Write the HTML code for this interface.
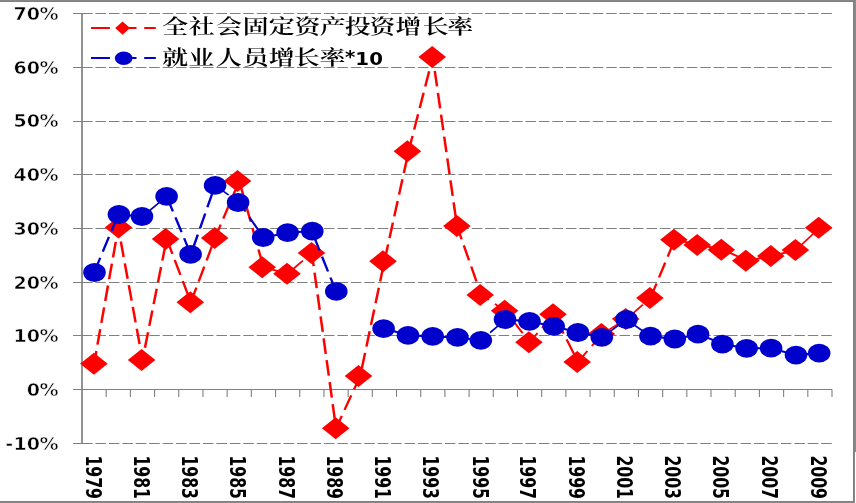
<!DOCTYPE html>
<html lang="zh"><head><meta charset="utf-8">
<style>html,body{margin:0;padding:0;background:#fff;overflow:hidden}svg{display:block}.ax{font-family:"DejaVu Sans","Liberation Sans",sans-serif;font-weight:bold;fill:#000}.thin{stroke:#fff;stroke-width:0.55px}.cj{font-family:"Liberation Serif","Noto Serif CJK SC",serif;fill:#000}</style></head><body>
<svg width="856" height="503" viewBox="0 0 856 503">
<rect x="0" y="0" width="856" height="503" fill="#fff"/>
<g stroke="#808080" stroke-width="1" stroke-dasharray="10.55 2.89" fill="none">
<line x1="82.0" y1="13.50" x2="832.0" y2="13.50"/>
<line x1="82.0" y1="67.50" x2="832.0" y2="67.50"/>
<line x1="82.0" y1="121.50" x2="832.0" y2="121.50"/>
<line x1="82.0" y1="174.50" x2="832.0" y2="174.50"/>
<line x1="82.0" y1="228.50" x2="832.0" y2="228.50"/>
<line x1="82.0" y1="282.50" x2="832.0" y2="282.50"/>
<line x1="82.0" y1="335.50" x2="832.0" y2="335.50"/>
<line x1="82.0" y1="443.50" x2="832.0" y2="443.50"/>
</g>
<g stroke="#808080" fill="none">
<line x1="82.0" y1="13.00" x2="82.0" y2="444.00" stroke-width="1.7"/>
<line x1="73.0" y1="389.50" x2="832.0" y2="389.50" stroke-width="1"/>
<line x1="73.0" y1="13.50" x2="82.0" y2="13.50" stroke-width="1"/>
<line x1="73.0" y1="67.50" x2="82.0" y2="67.50" stroke-width="1"/>
<line x1="73.0" y1="121.50" x2="82.0" y2="121.50" stroke-width="1"/>
<line x1="73.0" y1="174.50" x2="82.0" y2="174.50" stroke-width="1"/>
<line x1="73.0" y1="228.50" x2="82.0" y2="228.50" stroke-width="1"/>
<line x1="73.0" y1="282.50" x2="82.0" y2="282.50" stroke-width="1"/>
<line x1="73.0" y1="335.50" x2="82.0" y2="335.50" stroke-width="1"/>
<line x1="73.0" y1="443.50" x2="82.0" y2="443.50" stroke-width="1"/>
<line x1="106.19" y1="389.50" x2="106.19" y2="396.90" stroke-width="1.1"/>
<line x1="130.39" y1="389.50" x2="130.39" y2="396.90" stroke-width="1.1"/>
<line x1="154.58" y1="389.50" x2="154.58" y2="396.90" stroke-width="1.1"/>
<line x1="178.77" y1="389.50" x2="178.77" y2="396.90" stroke-width="1.1"/>
<line x1="202.97" y1="389.50" x2="202.97" y2="396.90" stroke-width="1.1"/>
<line x1="227.16" y1="389.50" x2="227.16" y2="396.90" stroke-width="1.1"/>
<line x1="251.35" y1="389.50" x2="251.35" y2="396.90" stroke-width="1.1"/>
<line x1="275.55" y1="389.50" x2="275.55" y2="396.90" stroke-width="1.1"/>
<line x1="299.74" y1="389.50" x2="299.74" y2="396.90" stroke-width="1.1"/>
<line x1="323.94" y1="389.50" x2="323.94" y2="396.90" stroke-width="1.1"/>
<line x1="348.13" y1="389.50" x2="348.13" y2="396.90" stroke-width="1.1"/>
<line x1="372.32" y1="389.50" x2="372.32" y2="396.90" stroke-width="1.1"/>
<line x1="396.52" y1="389.50" x2="396.52" y2="396.90" stroke-width="1.1"/>
<line x1="420.71" y1="389.50" x2="420.71" y2="396.90" stroke-width="1.1"/>
<line x1="444.90" y1="389.50" x2="444.90" y2="396.90" stroke-width="1.1"/>
<line x1="469.10" y1="389.50" x2="469.10" y2="396.90" stroke-width="1.1"/>
<line x1="493.29" y1="389.50" x2="493.29" y2="396.90" stroke-width="1.1"/>
<line x1="517.48" y1="389.50" x2="517.48" y2="396.90" stroke-width="1.1"/>
<line x1="541.68" y1="389.50" x2="541.68" y2="396.90" stroke-width="1.1"/>
<line x1="565.87" y1="389.50" x2="565.87" y2="396.90" stroke-width="1.1"/>
<line x1="590.06" y1="389.50" x2="590.06" y2="396.90" stroke-width="1.1"/>
<line x1="614.26" y1="389.50" x2="614.26" y2="396.90" stroke-width="1.1"/>
<line x1="638.45" y1="389.50" x2="638.45" y2="396.90" stroke-width="1.1"/>
<line x1="662.65" y1="389.50" x2="662.65" y2="396.90" stroke-width="1.1"/>
<line x1="686.84" y1="389.50" x2="686.84" y2="396.90" stroke-width="1.1"/>
<line x1="711.03" y1="389.50" x2="711.03" y2="396.90" stroke-width="1.1"/>
<line x1="735.23" y1="389.50" x2="735.23" y2="396.90" stroke-width="1.1"/>
<line x1="759.42" y1="389.50" x2="759.42" y2="396.90" stroke-width="1.1"/>
<line x1="783.61" y1="389.50" x2="783.61" y2="396.90" stroke-width="1.1"/>
<line x1="807.81" y1="389.50" x2="807.81" y2="396.90" stroke-width="1.1"/>
<line x1="832.00" y1="389.50" x2="832.00" y2="396.90" stroke-width="1.1"/>
</g>
<text class="ax thin" transform="translate(0,20.10) scale(1.035,1)" font-size="18.4" x="12.95 25.89 38.12" y="0">70%</text>
<text class="ax thin" transform="translate(0,74.20) scale(1.035,1)" font-size="18.4" x="12.95 25.89 38.12" y="0">60%</text>
<text class="ax thin" transform="translate(0,127.30) scale(1.035,1)" font-size="18.4" x="12.95 25.89 38.12" y="0">50%</text>
<text class="ax thin" transform="translate(0,181.10) scale(1.035,1)" font-size="18.4" x="12.95 25.89 38.12" y="0">40%</text>
<text class="ax thin" transform="translate(0,235.10) scale(1.035,1)" font-size="18.4" x="12.95 25.89 38.12" y="0">30%</text>
<text class="ax thin" transform="translate(0,288.80) scale(1.035,1)" font-size="18.4" x="12.95 25.89 38.12" y="0">20%</text>
<text class="ax thin" transform="translate(0,342.20) scale(1.035,1)" font-size="18.4" x="12.95 25.89 38.12" y="0">10%</text>
<text class="ax thin" transform="translate(0,396.10) scale(1.035,1)" font-size="18.4" x="25.89 38.12" y="0">0%</text>
<text class="ax thin" transform="translate(0,449.60) scale(1.035,1)" font-size="18.4" x="5.12 12.95 25.89 38.12" y="0">-10%</text>
<text class="ax" font-size="19" transform="translate(85.60,455.4) rotate(90) scale(0.824,1.12)" x="0" y="0">1979</text>
<text class="ax" font-size="19" transform="translate(133.90,455.4) rotate(90) scale(0.824,1.12)" x="0" y="0">1981</text>
<text class="ax" font-size="19" transform="translate(181.50,455.4) rotate(90) scale(0.824,1.12)" x="0" y="0">1983</text>
<text class="ax" font-size="19" transform="translate(230.10,455.4) rotate(90) scale(0.824,1.12)" x="0" y="0">1985</text>
<text class="ax" font-size="19" transform="translate(278.50,455.4) rotate(90) scale(0.824,1.12)" x="0" y="0">1987</text>
<text class="ax" font-size="19" transform="translate(326.90,455.4) rotate(90) scale(0.824,1.12)" x="0" y="0">1989</text>
<text class="ax" font-size="19" transform="translate(374.70,455.4) rotate(90) scale(0.824,1.12)" x="0" y="0">1991</text>
<text class="ax" font-size="19" transform="translate(423.40,455.4) rotate(90) scale(0.824,1.12)" x="0" y="0">1993</text>
<text class="ax" font-size="19" transform="translate(472.70,455.4) rotate(90) scale(0.824,1.12)" x="0" y="0">1995</text>
<text class="ax" font-size="19" transform="translate(519.70,455.4) rotate(90) scale(0.824,1.12)" x="0" y="0">1997</text>
<text class="ax" font-size="19" transform="translate(568.70,455.4) rotate(90) scale(0.824,1.12)" x="0" y="0">1999</text>
<text class="ax" font-size="19" transform="translate(616.90,455.4) rotate(90) scale(0.824,1.12)" x="0" y="0">2001</text>
<text class="ax" font-size="19" transform="translate(665.10,455.4) rotate(90) scale(0.824,1.12)" x="0" y="0">2003</text>
<text class="ax" font-size="19" transform="translate(712.90,455.4) rotate(90) scale(0.824,1.12)" x="0" y="0">2005</text>
<text class="ax" font-size="19" transform="translate(761.60,455.4) rotate(90) scale(0.824,1.12)" x="0" y="0">2007</text>
<text class="ax" font-size="19" transform="translate(810.70,455.4) rotate(90) scale(0.824,1.12)" x="0" y="0">2009</text>
<g transform="scale(1.2,1)">
<g fill="none" stroke="#ff0000" stroke-width="2.1" stroke-dasharray="15.65 6.41">
<line x1="78.41" y1="363.7" x2="98.58" y2="227.6" stroke-width="2.08" stroke-dashoffset="2.8"/>
<line x1="98.58" y1="227.6" x2="118.74" y2="360.0" stroke-width="2.08" stroke-dashoffset="8.0"/>
<line x1="118.74" y1="360.0" x2="138.90" y2="238.9" stroke-width="2.07" stroke-dashoffset="9.6"/>
<line x1="138.90" y1="238.9" x2="159.06" y2="302.3" stroke-width="2.00" stroke-dashoffset="22.0"/>
<line x1="159.06" y1="302.3" x2="179.22" y2="237.9" stroke-width="2.00" stroke-dashoffset="0.3"/>
<line x1="179.22" y1="237.9" x2="199.38" y2="180.9" stroke-width="1.98" stroke-dashoffset="1.6"/>
<line x1="199.38" y1="180.9" x2="219.54" y2="267.2" stroke-width="2.04" stroke-dashoffset="17.9"/>
<line x1="219.54" y1="267.2" x2="239.70" y2="273.7" stroke-width="2.00" stroke-dashoffset="18.3"/>
<line x1="239.70" y1="273.7" x2="259.87" y2="252.9" stroke-width="1.51" stroke-dashoffset="19.5"/>
<line x1="259.87" y1="252.9" x2="280.03" y2="428.3" stroke-width="2.09" stroke-dashoffset="2.3"/>
<line x1="280.03" y1="428.3" x2="300.19" y2="376.0" stroke-width="1.96" stroke-dashoffset="2.4"/>
<line x1="300.19" y1="376.0" x2="320.35" y2="261.2" stroke-width="2.07" stroke-dashoffset="14.3"/>
<line x1="320.35" y1="261.2" x2="340.51" y2="151.2" stroke-width="2.07" stroke-dashoffset="20.6"/>
<line x1="340.51" y1="151.2" x2="360.67" y2="57.0" stroke-width="2.05" stroke-dashoffset="0.0"/>
<line x1="360.67" y1="57.0" x2="380.83" y2="226.0" stroke-width="2.09" stroke-dashoffset="8.1"/>
<line x1="380.83" y1="226.0" x2="400.99" y2="294.9" stroke-width="2.02" stroke-dashoffset="1.9"/>
<line x1="400.99" y1="294.9" x2="421.16" y2="310.8" stroke-width="1.65" stroke-dashoffset="7.5"/>
<line x1="421.16" y1="310.8" x2="441.32" y2="342.2" stroke-width="1.77" stroke-dashoffset="11.1"/>
<line x1="441.32" y1="342.2" x2="461.48" y2="314.2" stroke-width="1.70" stroke-dashoffset="4.3"/>
<line x1="461.48" y1="314.2" x2="481.64" y2="361.9" stroke-width="1.93" stroke-dashoffset="16.7"/>
<line x1="481.64" y1="361.9" x2="501.80" y2="334.0" stroke-width="1.70" stroke-dashoffset="2.3"/>
<line x1="501.80" y1="334.0" x2="521.96" y2="319.0" stroke-width="1.68" stroke-dashoffset="14.7"/>
<line x1="521.96" y1="319.0" x2="542.12" y2="297.9" stroke-width="1.52" stroke-dashoffset="17.8"/>
<line x1="542.12" y1="297.9" x2="562.28" y2="239.7" stroke-width="1.98" stroke-dashoffset="0.4"/>
<line x1="562.28" y1="239.7" x2="582.45" y2="244.9" stroke-width="2.03" stroke-dashoffset="20.3"/>
<line x1="582.45" y1="244.9" x2="602.61" y2="249.8" stroke-width="2.04" stroke-dashoffset="19.1"/>
<line x1="602.61" y1="249.8" x2="622.77" y2="260.7" stroke-width="1.85" stroke-dashoffset="17.7"/>
<line x1="622.77" y1="260.7" x2="642.93" y2="256.1" stroke-width="2.05" stroke-dashoffset="18.6"/>
<line x1="642.93" y1="256.1" x2="663.09" y2="250.0" stroke-width="2.01" stroke-dashoffset="17.2"/>
<line x1="663.09" y1="250.0" x2="683.25" y2="227.8" stroke-width="1.55" stroke-dashoffset="16.2"/>
</g>
<g fill="#ff0000">
<polygon points="66.75,363.7 78.25,352.7 89.75,363.7 78.25,374.7"/>
<polygon points="87.25,227.6 98.75,216.6 110.25,227.6 98.75,238.6"/>
<polygon points="106.50,360.0 118.00,349.0 129.50,360.0 118.00,371.0"/>
<polygon points="126.50,238.9 138.00,227.9 149.50,238.9 138.00,249.9"/>
<polygon points="147.08,302.3 158.58,291.3 170.08,302.3 158.58,313.3"/>
<polygon points="167.42,237.9 178.92,226.9 190.42,237.9 178.92,248.9"/>
<polygon points="186.42,180.9 197.92,169.9 209.42,180.9 197.92,191.9"/>
<polygon points="207.00,267.2 218.50,256.2 230.00,267.2 218.50,278.2"/>
<polygon points="227.67,273.7 239.17,262.7 250.67,273.7 239.17,284.7"/>
<polygon points="248.08,252.9 259.58,241.9 271.08,252.9 259.58,263.9"/>
<polygon points="268.25,428.3 279.75,417.3 291.25,428.3 279.75,439.3"/>
<polygon points="287.25,376.0 298.75,365.0 310.25,376.0 298.75,387.0"/>
<polygon points="307.67,261.2 319.17,250.2 330.67,261.2 319.17,272.2"/>
<polygon points="328.00,151.2 339.50,140.2 351.00,151.2 339.50,162.2"/>
<polygon points="348.67,57.0 360.17,46.0 371.67,57.0 360.17,68.0"/>
<polygon points="369.25,226.0 380.75,215.0 392.25,226.0 380.75,237.0"/>
<polygon points="388.67,294.9 400.17,283.9 411.67,294.9 400.17,305.9"/>
<polygon points="409.00,310.8 420.50,299.8 432.00,310.8 420.50,321.8"/>
<polygon points="429.25,342.2 440.75,331.2 452.25,342.2 440.75,353.2"/>
<polygon points="449.33,314.2 460.83,303.2 472.33,314.2 460.83,325.2"/>
<polygon points="469.50,361.9 481.00,350.9 492.50,361.9 481.00,372.9"/>
<polygon points="489.67,334.0 501.17,323.0 512.67,334.0 501.17,345.0"/>
<polygon points="509.92,319.0 521.42,308.0 532.92,319.0 521.42,330.0"/>
<polygon points="530.08,297.9 541.58,286.9 553.08,297.9 541.58,308.9"/>
<polygon points="550.08,239.7 561.58,228.7 573.08,239.7 561.58,250.7"/>
<polygon points="569.50,244.9 581.00,233.9 592.50,244.9 581.00,255.9"/>
<polygon points="589.58,249.8 601.08,238.8 612.58,249.8 601.08,260.8"/>
<polygon points="610.00,260.7 621.50,249.7 633.00,260.7 621.50,271.7"/>
<polygon points="630.83,256.1 642.33,245.1 653.83,256.1 642.33,267.1"/>
<polygon points="651.33,250.0 662.83,239.0 674.33,250.0 662.83,261.0"/>
<polygon points="670.75,227.8 682.25,216.8 693.75,227.8 682.25,238.8"/>
</g></g>
<g transform="scale(1.2,1)">
<g fill="none" stroke="#0000cc" stroke-width="2.1" stroke-dasharray="15.65 6.41">
<line x1="78.41" y1="272.5" x2="98.58" y2="214.5" stroke-width="1.98" stroke-dashoffset="0.0"/>
<line x1="98.58" y1="214.5" x2="118.74" y2="216.5" stroke-width="2.09" stroke-dashoffset="17.3"/>
<line x1="118.74" y1="216.5" x2="138.90" y2="196.4" stroke-width="1.49" stroke-dashoffset="15.5"/>
<line x1="138.90" y1="196.4" x2="159.06" y2="254.4" stroke-width="1.98" stroke-dashoffset="21.9"/>
<line x1="159.06" y1="254.4" x2="179.22" y2="185.4" stroke-width="2.02" stroke-dashoffset="17.1"/>
<line x1="179.22" y1="185.4" x2="199.38" y2="202.5" stroke-width="1.60" stroke-dashoffset="0.8"/>
<line x1="199.38" y1="202.5" x2="219.54" y2="237.5" stroke-width="1.82" stroke-dashoffset="5.1"/>
<line x1="219.54" y1="237.5" x2="239.70" y2="232.6" stroke-width="2.04" stroke-dashoffset="1.4"/>
<line x1="239.70" y1="232.6" x2="259.87" y2="231.2" stroke-width="2.09" stroke-dashoffset="0.1"/>
<line x1="259.87" y1="231.2" x2="280.03" y2="291.4" stroke-width="1.99" stroke-dashoffset="17.3"/>
<line x1="320.35" y1="328.6" x2="340.51" y2="335.4" stroke-width="1.99" stroke-dashoffset="17.6"/>
<line x1="340.51" y1="335.4" x2="360.67" y2="336.4" stroke-width="2.10" stroke-dashoffset="16.8"/>
<line x1="360.67" y1="336.4" x2="380.83" y2="337.4" stroke-width="2.10" stroke-dashoffset="15.0"/>
<line x1="380.83" y1="337.4" x2="400.99" y2="340.3" stroke-width="2.08" stroke-dashoffset="13.1"/>
<line x1="400.99" y1="340.3" x2="421.16" y2="319.5" stroke-width="1.51" stroke-dashoffset="11.4"/>
<line x1="421.16" y1="319.5" x2="441.32" y2="321.3" stroke-width="2.09" stroke-dashoffset="18.3"/>
<line x1="441.32" y1="321.3" x2="461.48" y2="326.3" stroke-width="2.04" stroke-dashoffset="16.5"/>
<line x1="461.48" y1="326.3" x2="481.64" y2="332.5" stroke-width="2.01" stroke-dashoffset="15.2"/>
<line x1="481.64" y1="332.5" x2="501.80" y2="337.3" stroke-width="2.04" stroke-dashoffset="14.2"/>
<line x1="501.80" y1="337.3" x2="521.96" y2="319.5" stroke-width="1.57" stroke-dashoffset="12.9"/>
<line x1="521.96" y1="319.5" x2="542.12" y2="336.2" stroke-width="1.62" stroke-dashoffset="17.7"/>
<line x1="542.12" y1="336.2" x2="562.28" y2="339.0" stroke-width="2.08" stroke-dashoffset="21.8"/>
<line x1="562.28" y1="339.0" x2="582.45" y2="334.2" stroke-width="2.04" stroke-dashoffset="20.1"/>
<line x1="582.45" y1="334.2" x2="602.61" y2="344.2" stroke-width="1.88" stroke-dashoffset="18.8"/>
<line x1="602.61" y1="344.2" x2="622.77" y2="348.3" stroke-width="2.06" stroke-dashoffset="19.3"/>
<line x1="622.77" y1="348.3" x2="642.93" y2="348.2" stroke-width="2.10" stroke-dashoffset="17.8"/>
<line x1="642.93" y1="348.2" x2="663.09" y2="355.1" stroke-width="1.99" stroke-dashoffset="15.9"/>
<line x1="663.09" y1="355.1" x2="683.25" y2="353.1" stroke-width="2.09" stroke-dashoffset="15.1"/>
</g>
<g fill="#0000cc">
<circle cx="78.75" cy="272.5" r="9.4"/>
<circle cx="99.08" cy="214.5" r="9.4"/>
<circle cx="118.33" cy="216.5" r="9.4"/>
<circle cx="138.83" cy="196.4" r="9.4"/>
<circle cx="158.83" cy="254.4" r="9.4"/>
<circle cx="179.25" cy="185.4" r="9.4"/>
<circle cx="198.42" cy="202.5" r="9.4"/>
<circle cx="219.33" cy="237.5" r="9.4"/>
<circle cx="239.67" cy="232.6" r="9.4"/>
<circle cx="260.25" cy="231.2" r="9.4"/>
<circle cx="280.25" cy="291.4" r="9.4"/>
<circle cx="319.67" cy="328.6" r="9.4"/>
<circle cx="340.00" cy="335.4" r="9.4"/>
<circle cx="360.58" cy="336.4" r="9.4"/>
<circle cx="381.25" cy="337.4" r="9.4"/>
<circle cx="400.67" cy="340.3" r="9.4"/>
<circle cx="420.83" cy="319.5" r="9.4"/>
<circle cx="441.25" cy="321.3" r="9.4"/>
<circle cx="461.42" cy="326.3" r="9.4"/>
<circle cx="481.58" cy="332.5" r="9.4"/>
<circle cx="501.50" cy="337.3" r="9.4"/>
<circle cx="522.08" cy="319.5" r="9.4"/>
<circle cx="542.08" cy="336.2" r="9.4"/>
<circle cx="562.33" cy="339.0" r="9.4"/>
<circle cx="581.67" cy="334.2" r="9.4"/>
<circle cx="602.00" cy="344.2" r="9.4"/>
<circle cx="622.17" cy="348.3" r="9.4"/>
<circle cx="642.58" cy="348.2" r="9.4"/>
<circle cx="663.33" cy="355.1" r="9.4"/>
<circle cx="682.67" cy="353.1" r="9.4"/>
</g></g>
<line x1="91" y1="28.1" x2="155.8" y2="28.1" stroke="#ff0000" stroke-width="2" stroke-dasharray="18.9 7.7"/>
<polygon fill="#ff0000" points="115.2,28.1 122.6,21.400000000000002 130,28.1 122.6,34.800000000000004"/>
<line x1="91" y1="57.9" x2="155.8" y2="57.9" stroke="#0000cc" stroke-width="2" stroke-dasharray="18.9 7.7"/>
<ellipse fill="#0000cc" cx="123.7" cy="58.3" rx="8.8" ry="6.8"/>
<text class="cj" font-size="20.1" font-weight="600" transform="scale(1.287,1)" x="126.11 146.76 167.93 188.54 208.90 228.75 248.45 267.87 287.06 307.30 328.54 347.61" y="34.1">全社会固定资产投资增长率</text>
<text class="cj" font-size="20.1" font-weight="600" transform="scale(1.287,1)" x="126.11 146.56 167.83 188.81 208.86 228.26 248.19" y="65.2">就业人员增长率<tspan class="ax" font-size="18.0" x="268.10" y="65" dy="-1.7 1.7 0" textLength="29.41" lengthAdjust="spacingAndGlyphs">*10</tspan></text>
<rect x="0" y="0" width="856" height="1" fill="#888888"/>
<rect x="0" y="1" width="856" height="1" fill="#808080"/>
<rect x="0" y="501" width="855" height="1" fill="#808080"/>
<rect x="0" y="502" width="855" height="1" fill="#888888"/>
<rect x="853" y="0" width="1" height="503" fill="#808080"/>
<rect x="854" y="0" width="1" height="503" fill="#888888"/>
<rect x="855" y="0" width="1" height="452" fill="#888888"/>
</svg></body></html>
